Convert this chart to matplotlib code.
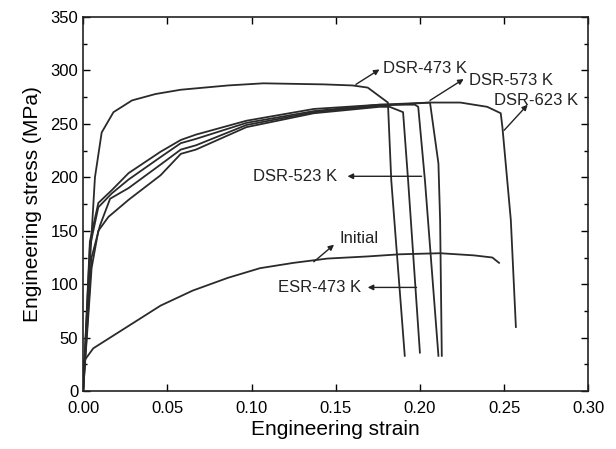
import numpy as np
import matplotlib
matplotlib.use("Agg")
import matplotlib.pyplot as plt
from matplotlib.ticker import MultipleLocator, FormatStrFormatter

plt.rcParams['font.family'] = ['Liberation Sans', 'DejaVu Sans']

# curves (strain, stress in MPa)
dsr473_x = [0, 0.004, 0.007, 0.011, 0.018, 0.029, 0.043, 0.058, 0.086, 0.107, 0.143, 0.160, 0.169, 0.181, 0.183, 0.191]
dsr473_y = [0, 120, 200, 242, 261, 272, 278, 282, 286, 288, 287, 286, 284, 270, 197, 33]

dsr523_x = [0, 0.004, 0.009, 0.017, 0.027, 0.046, 0.058, 0.067, 0.097, 0.137, 0.176, 0.197, 0.199, 0.203, 0.211]
dsr523_y = [0, 140, 176, 188, 204, 224, 235, 240, 253, 264, 268, 268, 266, 197, 33]

dsr573_x = [0, 0.004, 0.009, 0.017, 0.027, 0.046, 0.058, 0.067, 0.097, 0.137, 0.176, 0.206, 0.211, 0.212, 0.213]
dsr573_y = [0, 135, 172, 185, 198, 219, 232, 236, 251, 262, 268, 270, 213, 160, 33]

dsr623_x = [0, 0.005, 0.010, 0.016, 0.027, 0.046, 0.058, 0.067, 0.097, 0.137, 0.176, 0.206, 0.224, 0.240, 0.248, 0.249, 0.254, 0.257]
dsr623_y = [0, 125, 155, 180, 190, 212, 226, 230, 249, 261, 267, 270, 270, 266, 260, 247, 160, 60]

esr473_x = [0, 0.005, 0.009, 0.015, 0.027, 0.046, 0.058, 0.067, 0.097, 0.137, 0.176, 0.182, 0.190, 0.193, 0.200]
esr473_y = [0, 115, 150, 163, 179, 202, 222, 226, 247, 260, 266, 266, 261, 197, 36]

init_x = [0, 0.006, 0.026, 0.046, 0.065, 0.086, 0.105, 0.125, 0.145, 0.169, 0.188, 0.212, 0.232, 0.243, 0.247]
init_y = [27, 40, 60, 80, 94, 106, 115, 120, 124, 126, 128, 129, 127, 125, 120]

# label text, text position, arrow tail (on curve), arrow head
labels = ['DSR-473 K', 'DSR-573 K', 'DSR-623 K', 'DSR-523 K', 'ESR-473 K', 'Initial']
label_pos = [(0.178, 302), (0.229, 291), (0.244, 272), (0.101, 201), (0.116, 97), (0.152, 143)]
arrow_tail = [(0.162, 287), (0.206, 272), (0.250, 244), (0.201, 201), (0.198, 97), (0.137, 121)]
arrow_head = [(0.176, 301), (0.226, 292), (0.264, 268), (0.157, 201), (0.169, 97), (0.149, 137)]

fig = plt.figure(figsize=(6.16, 4.49), dpi=100)
ax = fig.add_axes([0.135, 0.129, 0.82, 0.833])

lc = '#2a2a2a'
for xs, ys in [(dsr473_x, dsr473_y), (dsr523_x, dsr523_y), (dsr573_x, dsr573_y),
               (dsr623_x, dsr623_y), (esr473_x, esr473_y), (init_x, init_y)]:
    ax.plot(xs, ys, color=lc, lw=1.3)

for lab, p, t, h in zip(labels, label_pos, arrow_tail, arrow_head):
    ax.annotate('', xy=h, xytext=t,
                arrowprops=dict(arrowstyle='-|>', color='#222222', lw=1.0,
                                mutation_scale=8, shrinkA=0, shrinkB=0))
    ax.text(p[0], p[1], lab, fontsize=12, va='center', ha='left', color='#222222')

ax.set_xlim(0, 0.30)
ax.set_ylim(0, 350)
ax.xaxis.set_major_locator(MultipleLocator(0.05))
ax.yaxis.set_major_locator(MultipleLocator(50))
ax.yaxis.set_minor_locator(MultipleLocator(25))
ax.xaxis.set_major_formatter(FormatStrFormatter('%.2f'))
ax.tick_params(which='both', direction='in', top=True, right=True, labelsize=12, width=1.0)
ax.tick_params(which='major', length=5)
ax.tick_params(which='minor', length=3)
ax.tick_params(axis='x', pad=7)
for s in ax.spines.values():
    s.set_linewidth(1.2)
    s.set_color('#222222')

ax.set_xlabel('Engineering strain', fontsize=15, labelpad=3)
ax.set_ylabel('Engineering stress (MPa)', fontsize=15, labelpad=6)

fig.savefig('out.png', dpi=100)
